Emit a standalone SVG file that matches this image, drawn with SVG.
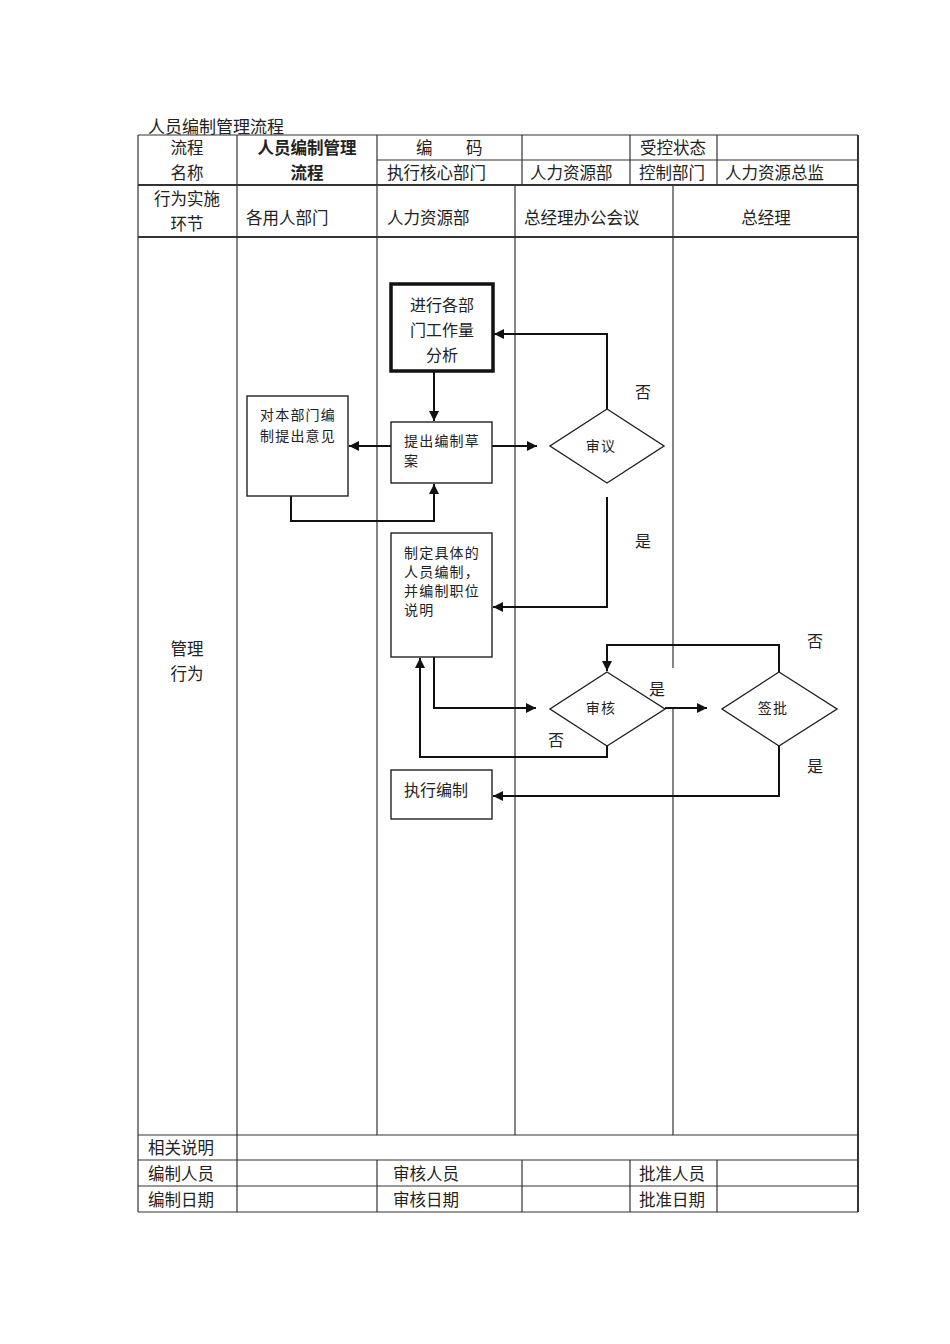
<svg xmlns="http://www.w3.org/2000/svg" width="950" height="1344" viewBox="0 0 950 1344">
<style>
text{font-family:"Liberation Serif","Noto Sans CJK SC",serif;fill:#222;dominant-baseline:central}
.h{font-size:16.5px}
.c{text-anchor:middle}
.b{font-weight:bold;font-family:"Liberation Sans","Noto Sans CJK SC",sans-serif}
.t{font-family:"Liberation Sans","Noto Sans CJK SC",sans-serif;font-size:17px}
.g line{stroke:#333;stroke-width:1.2}
.g .k{stroke-width:2}
.box{fill:#fff;stroke:#222;stroke-width:1.4}
.s{font-size:14px;letter-spacing:1.2px}
.m{font-size:16px}
.cn{fill:none;stroke:#111;stroke-width:2}
</style>
<defs>
<marker id="arr" viewBox="0 0 10 10" refX="10" refY="5" markerWidth="11" markerHeight="10" markerUnits="userSpaceOnUse" orient="auto"><path d="M0,0 L10,5 L0,10 z" fill="#111"/></marker>
</defs>
<rect width="950" height="1344" fill="#fff"/>
<text class="t" x="148" y="127">人员编制管理流程</text>
<g id="table" class="g">
<line x1="138" y1="135" x2="858" y2="135"/>
<line x1="377" y1="160" x2="858" y2="160"/>
<line class="k" x1="138" y1="185" x2="858" y2="185"/>
<line class="k" x1="138" y1="237" x2="858" y2="237"/>
<line x1="138" y1="1135" x2="858" y2="1135"/>
<line x1="138" y1="1160" x2="858" y2="1160"/>
<line x1="138" y1="1186" x2="858" y2="1186"/>
<line x1="138" y1="1212" x2="858" y2="1212"/>
<line x1="138" y1="135" x2="138" y2="1212"/>
<line class="k" x1="858" y1="135" x2="858" y2="1212"/>
<line x1="237" y1="135" x2="237" y2="1212"/>
<line x1="377" y1="135" x2="377" y2="1135"/>
<line x1="377" y1="1160" x2="377" y2="1212"/>
<line x1="522" y1="135" x2="522" y2="185"/>
<line x1="522" y1="1160" x2="522" y2="1212"/>
<line x1="630" y1="135" x2="630" y2="185"/>
<line x1="630" y1="1160" x2="630" y2="1212"/>
<line x1="717" y1="135" x2="717" y2="185"/>
<line x1="717" y1="1160" x2="717" y2="1212"/>
<line x1="515" y1="185" x2="515" y2="1135"/>
<line x1="673" y1="185" x2="673" y2="668"/>
<line x1="673" y1="708" x2="673" y2="1135"/>
</g>
<g id="header-text">
<text class="h c" x="187" y="148">流程</text>
<text class="h c" x="187" y="173">名称</text>
<text class="h c b" x="307" y="148">人员编制管理</text>
<text class="h c b" x="307" y="173">流程</text>
<text class="h" x="416" y="148">编</text>
<text class="h" x="466" y="148">码</text>
<text class="h c" x="673" y="148">受控状态</text>
<text class="h" x="387" y="173">执行核心部门</text>
<text class="h" x="530" y="173">人力资源部</text>
<text class="h" x="639" y="173">控制部门</text>
<text class="h" x="725" y="173">人力资源总监</text>
<text class="h c" x="187" y="199">行为实施</text>
<text class="h c" x="187" y="224">环节</text>
<text class="h" x="246" y="218">各用人部门</text>
<text class="h" x="387" y="218">人力资源部</text>
<text class="h" x="524" y="218">总经理办公会议</text>
<text class="h c" x="766" y="218">总经理</text>
<text class="h c" x="187" y="649">管理</text>
<text class="h c" x="187" y="674">行为</text>
<text class="h" x="148" y="1148">相关说明</text>
<text class="h" x="148" y="1174">编制人员</text>
<text class="h" x="393" y="1174">审核人员</text>
<text class="h" x="639" y="1174">批准人员</text>
<text class="h" x="148" y="1200">编制日期</text>
<text class="h" x="393" y="1200">审核日期</text>
<text class="h" x="639" y="1200">批准日期</text>
</g>
<g id="connectors">
<path class="cn" d="M434 371 V421" marker-end="url(#arr)"/>
<path class="cn" d="M391 446 H349" marker-end="url(#arr)"/>
<path class="cn" d="M492 446 H537" marker-end="url(#arr)"/>
<path class="cn" d="M291 496 V521 H434 V484" marker-end="url(#arr)"/>
<path class="cn" d="M607 409 V334 H494" marker-end="url(#arr)"/>
<path class="cn" d="M607 497 V607 H493" marker-end="url(#arr)"/>
<path class="cn" d="M434 657 V708 H536" marker-end="url(#arr)"/>
<path class="cn" d="M607 746 V757 H420 V658" marker-end="url(#arr)"/>
<path class="cn" d="M665 708 H707" marker-end="url(#arr)"/>
<path class="cn" d="M779 672 V645 H607 V671" marker-end="url(#arr)"/>
<path class="cn" d="M779 746 V796 H493" marker-end="url(#arr)"/>
<text class="m" x="635" y="392">否</text>
<text class="m" x="635" y="541">是</text>
<text class="m" x="548" y="740">否</text>
<text class="m" x="649" y="689">是</text>
<text class="m" x="807" y="641">否</text>
<text class="m" x="807" y="766">是</text>
</g>
<g id="n1">
<rect x="391" y="284" width="102" height="87" fill="#fff" stroke="#111" stroke-width="3.5"/>
<text class="m c" x="442" y="305">进行各部</text>
<text class="m c" x="442" y="330">门工作量</text>
<text class="m c" x="442" y="355">分析</text>
</g>
<g id="n2">
<rect class="box" x="247" y="396" width="101" height="100"/>
<text class="s" x="260" y="415">对本部门编</text>
<text class="s" x="260" y="436">制提出意见</text>
</g>
<g id="n3">
<rect class="box" x="391" y="422" width="101" height="61"/>
<text class="s" x="404" y="441">提出编制草</text>
<text class="s" x="404" y="461">案</text>
</g>
<g id="n4">
<polygon class="box" points="607,409 664,446 607,483 550,446"/>
<text class="s c" x="601" y="446">审议</text>
</g>
<g id="n5">
<rect class="box" x="391" y="533" width="101" height="124"/>
<text class="s" x="404" y="553">制定具体的</text>
<text class="s" x="404" y="572">人员编制，</text>
<text class="s" x="404" y="591">并编制职位</text>
<text class="s" x="404" y="610">说明</text>
</g>
<g id="n6">
<polygon class="box" points="607,672 665,709 607,746 550,709"/>
<text class="s c" x="601" y="708">审核</text>
</g>
<g id="n7">
<polygon class="box" points="779,672 837,709 779,746 722,709"/>
<text class="s c" x="773" y="708">签批</text>
</g>
<g id="n8">
<rect class="box" x="391" y="770" width="101" height="49"/>
<text class="m" x="404" y="790">执行编制</text>
</g>
</svg>
